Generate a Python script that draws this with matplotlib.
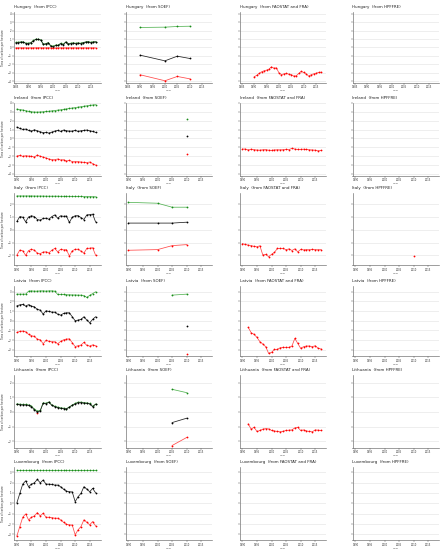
import numpy as np
import matplotlib
matplotlib.use("Agg")
import matplotlib.pyplot as plt

countries = ["Hungary", "Ireland", "Italy", "Latvia", "Lithuania", "Luxembourg"]
sources = ["IPCC", "SOEF", "FAOSTAT and FRA", "HPFFRE"]

# y tick labels per row (tons of carbon per hectare)
row_yticks = [
    [-4, -3, -2, -1, 0, 1, 2, 3, 4],
    [-4, -3, -2, -1, 0, 1, 2, 3, 4],
    [-2, -1, 0, 1, 2],
    [-3, -2, -1, 0, 1, 2, 3],
    [-2, -1, 0, 1, 2],
    [-3, -2, -1, 0, 1, 2, 3],
]
xticks_long = [1985, 1990, 1995, 2000, 2005, 2010, 2015]
xticks_std = [1990, 1995, 2000, 2005, 2010, 2015]

years_85_17 = list(range(1985, 2018))
years_90_17 = list(range(1990, 2018))
years_92_17 = list(range(1992, 2018))
soef_years = [1990, 2000, 2005, 2010]

# ---------------- Hungary ----------------
hungary_ipcc_gain = [0.60, 0.63, 0.67, 0.66, 0.51, 0.52, 0.59, 0.83, 0.99, 0.98, 0.91, 0.40, 0.47,
                     0.58, 0.21, 0.18, 0.30, 0.28, 0.51, 0.36, 0.67, 0.43, 0.51, 0.55, 0.51, 0.55,
                     0.51, 0.59, 0.67, 0.71, 0.63, 0.67, 0.71]
hungary_ipcc_net = [0.55, 0.59, 0.63, 0.63, 0.47, 0.47, 0.55, 0.79, 0.95, 0.95, 0.87, 0.36, 0.43,
                    0.55, 0.16, 0.08, 0.24, 0.24, 0.47, 0.32, 0.63, 0.39, 0.47, 0.51, 0.47, 0.51,
                    0.47, 0.55, 0.63, 0.67, 0.59, 0.63, 0.67]
hungary_ipcc_loss = [-0.04, -0.04, -0.04, -0.04, -0.04, -0.05, -0.04, -0.04, -0.04, -0.03, -0.04,
                     -0.04, -0.04, -0.03, -0.05, -0.10, -0.06, -0.04, -0.04, -0.04, -0.04, -0.04,
                     -0.04, -0.04, -0.04, -0.04, -0.04, -0.04, -0.04, -0.04, -0.04, -0.04, -0.04]
hungary_soef_gain = [2.37, 2.41, 2.49, 2.52]
hungary_soef_net = [-0.91, -1.58, -1.03, -1.30]
hungary_soef_loss = [-3.23, -3.94, -3.43, -3.71]
hungary_fao_loss = [-3.47, -3.31, -3.08, -2.88, -2.76, -2.68, -2.56, -2.29, -2.45, -2.41, -3.00,
                    -3.23, -3.12, -3.08, -3.16, -3.20, -3.39, -3.35, -3.08, -2.84, -2.96, -3.12,
                    -3.39, -3.23, -3.12, -3.04, -2.96, -2.92]

# ---------------- Ireland ----------------
ireland_ipcc_gain = [3.30, 3.25, 3.20, 3.12, 3.05, 3.00, 2.97, 2.96, 2.98, 3.00, 3.03, 3.06, 3.10,
                     3.14, 3.18, 3.22, 3.27, 3.32, 3.37, 3.42, 3.47, 3.52, 3.57, 3.62, 3.67, 3.72,
                     3.76, 3.80]
ireland_ipcc_net = [1.27, 1.12, 1.01, 1.05, 0.90, 0.82, 0.97, 0.86, 0.75, 0.64, 0.67, 0.60, 0.71,
                    0.82, 0.90, 0.79, 0.94, 0.86, 0.82, 0.82, 0.90, 0.79, 0.86, 0.90, 0.94, 0.86,
                    0.79, 0.67]
ireland_ipcc_loss = [-1.99, -1.91, -2.02, -1.95, -1.99, -2.02, -2.10, -1.87, -2.02, -2.10, -2.21,
                     -2.32, -2.40, -2.40, -2.32, -2.43, -2.40, -2.55, -2.47, -2.62, -2.62, -2.62,
                     -2.66, -2.70, -2.73, -2.66, -2.85, -3.00]
ireland_soef_years = [2010]
ireland_soef_gain = [2.13]
ireland_soef_net = [0.29]
ireland_soef_loss = [-1.80]
ireland_fao_loss = [-1.20, -1.20, -1.30, -1.22, -1.27, -1.31, -1.33, -1.28, -1.26, -1.33, -1.35,
                    -1.30, -1.28, -1.29, -1.27, -1.25, -1.26, -1.12, -1.20, -1.25, -1.24, -1.22,
                    -1.25, -1.28, -1.30, -1.33, -1.40, -1.36]

# ---------------- Italy ----------------
italy_ipcc_gain = [2.64, 2.64, 2.64, 2.64, 2.64, 2.64, 2.63, 2.63, 2.63, 2.63, 2.62, 2.62, 2.62,
                   2.62, 2.62, 2.61, 2.61, 2.61, 2.61, 2.60, 2.60, 2.60, 2.60, 2.59, 2.59, 2.59,
                   2.58, 2.58]
italy_ipcc_net = [0.65, 1.03, 0.98, 0.62, 1.00, 1.09, 1.03, 0.80, 0.75, 0.88, 0.90, 0.82, 1.03,
                  1.16, 0.90, 1.09, 1.05, 1.07, 0.57, 0.98, 1.09, 1.10, 0.95, 0.80, 1.16, 1.18,
                  1.22, 0.62]
italy_ipcc_loss = [-1.97, -1.59, -1.64, -2.00, -1.62, -1.53, -1.59, -1.82, -1.87, -1.74, -1.72,
                   -1.80, -1.59, -1.46, -1.72, -1.53, -1.57, -1.55, -2.05, -1.64, -1.53, -1.52,
                   -1.67, -1.82, -1.46, -1.44, -1.40, -1.98]
italy_soef_gain = [2.14, 2.07, 1.76, 1.76]
italy_soef_net = [0.52, 0.52, 0.52, 0.59]
italy_soef_loss = [-1.60, -1.55, -1.24, -1.16]
italy_fao_loss = [-1.08, -1.15, -1.20, -1.23, -1.30, -1.33, -1.25, -1.97, -1.92, -2.10, -1.92,
                  -1.77, -1.46, -1.46, -1.46, -1.56, -1.49, -1.62, -1.49, -1.72, -1.54, -1.57,
                  -1.55, -1.56, -1.54, -1.55, -1.56, -1.55]
italy_hpffre_years = [2010]
italy_hpffre_loss = [-2.03]

# ---------------- Latvia ----------------
latvia_ipcc_gain = [2.74, 2.74, 2.74, 2.74, 3.05, 3.08, 3.05, 3.05, 3.08, 3.08, 3.05, 3.08, 3.08,
                    3.05, 2.71, 2.71, 2.71, 2.68, 2.68, 2.66, 2.66, 2.64, 2.64, 2.60, 2.40, 2.62,
                    2.80, 2.98]
latvia_ipcc_net = [1.54, 1.64, 1.68, 1.51, 1.66, 1.51, 1.44, 1.16, 1.10, 0.68, 1.03, 0.96, 0.89,
                   0.89, 0.68, 0.58, 0.75, 0.82, 0.82, 0.41, 0.00, 0.07, 0.14, 0.41, 0.07, -0.21,
                   0.14, 0.41]
latvia_ipcc_loss = [-1.20, -1.10, -1.06, -1.13, -1.40, -1.54, -1.61, -1.89, -1.95, -2.37, -2.02,
                    -2.12, -2.16, -2.16, -2.37, -2.13, -1.96, -1.89, -1.86, -2.26, -2.66, -2.57,
                    -2.50, -2.23, -2.53, -2.61, -2.48, -2.57]
latvia_soef_gain_years = [2005, 2010]
latvia_soef_gain = [2.64, 2.74]
latvia_soef_other_years = [2010]
latvia_soef_net = [-0.55]
latvia_soef_loss = [-3.43]
latvia_fao_loss = [-0.68, -1.23, -1.40, -1.71, -2.16, -2.40, -2.67, -3.36, -3.25, -2.95, -2.95,
                   -2.77, -2.74, -2.74, -2.74, -2.60, -1.82, -2.33, -2.84, -2.67, -2.60, -2.60,
                   -2.67, -2.57, -2.84, -2.91]

# ---------------- Lithuania ----------------
lithuania_ipcc_gain = [0.55, 0.53, 0.51, 0.51, 0.48, 0.40, 0.20, 0.07, 0.10, 0.62, 0.60, 0.69,
                       0.48, 0.39, 0.33, 0.28, 0.26, 0.23, 0.35, 0.48, 0.58, 0.67, 0.67, 0.64,
                       0.62, 0.58, 0.39, 0.55]
lithuania_ipcc_net = [0.52, 0.50, 0.48, 0.48, 0.45, 0.36, 0.14, 0.00, 0.07, 0.59, 0.57, 0.66,
                      0.45, 0.36, 0.30, 0.25, 0.23, 0.20, 0.32, 0.45, 0.55, 0.64, 0.64, 0.61,
                      0.59, 0.55, 0.36, 0.52]
lithuania_ipcc_loss_years = [1997]
lithuania_ipcc_loss = [-0.09]
lithuania_soef_years = [2005, 2010]
lithuania_soef_gain = [1.55, 1.32]
lithuania_soef_net = [-0.73, -0.43]
lithuania_soef_loss = [-2.30, -1.75]
lithuania_fao_loss = [-0.82, -1.18, -1.05, -1.34, -1.27, -1.18, -1.14, -1.16, -1.27, -1.30,
                      -1.34, -1.36, -1.32, -1.27, -1.25, -1.23, -1.09, -1.05, -1.27, -1.23,
                      -1.30, -1.34, -1.36, -1.23, -1.25, -1.27]

# ---------------- Luxembourg ----------------
luxembourg_ipcc_gain = [3.19, 3.19, 3.19, 3.19, 3.19, 3.19, 3.19, 3.19, 3.19, 3.19, 3.19, 3.19,
                        3.19, 3.19, 3.19, 3.19, 3.19, 3.19, 3.19, 3.19, 3.19, 3.19, 3.19, 3.19,
                        3.19, 3.19, 3.19, 3.19]
luxembourg_ipcc_net = [0.06, 0.96, 1.85, 2.17, 1.60, 1.85, 1.98, 2.30, 1.98, 2.24, 1.85, 1.85,
                       1.82, 1.76, 1.76, 1.60, 1.37, 1.18, 1.12, 1.10, 0.16, 0.64, 0.96, 1.60,
                       1.37, 1.12, 1.44, 1.02]
luxembourg_ipcc_loss = [-3.13, -2.23, -1.34, -1.02, -1.59, -1.34, -1.21, -0.89, -1.21, -0.95,
                        -1.34, -1.34, -1.37, -1.43, -1.43, -1.59, -1.82, -2.01, -2.07, -2.09,
                        -3.03, -2.55, -2.23, -1.59, -1.82, -2.07, -1.75, -2.17]

GREEN_LINE, GREEN_MK = "#55b455", "#178a17"
BLACK_LINE, BLACK_MK = "#222222", "#000000"
RED_LINE, RED_MK = "#ff4a4a", "#ff0000"

series = {
    ("Hungary", "IPCC"): [(years_85_17, hungary_ipcc_gain, "g"), (years_85_17, hungary_ipcc_net, "k"),
                          (years_85_17, hungary_ipcc_loss, "r")],
    ("Hungary", "SOEF"): [(soef_years, hungary_soef_gain, "g"), (soef_years, hungary_soef_net, "k"),
                          (soef_years, hungary_soef_loss, "r")],
    ("Hungary", "FAOSTAT and FRA"): [(years_90_17, hungary_fao_loss, "r")],
    ("Ireland", "IPCC"): [(years_90_17, ireland_ipcc_gain, "g"), (years_90_17, ireland_ipcc_net, "k"),
                          (years_90_17, ireland_ipcc_loss, "r")],
    ("Ireland", "SOEF"): [(ireland_soef_years, ireland_soef_gain, "g"),
                          (ireland_soef_years, ireland_soef_net, "k"),
                          (ireland_soef_years, ireland_soef_loss, "r")],
    ("Ireland", "FAOSTAT and FRA"): [(years_90_17, ireland_fao_loss, "r")],
    ("Italy", "IPCC"): [(years_90_17, italy_ipcc_gain, "g"), (years_90_17, italy_ipcc_net, "k"),
                        (years_90_17, italy_ipcc_loss, "r")],
    ("Italy", "SOEF"): [(soef_years, italy_soef_gain, "g"), (soef_years, italy_soef_net, "k"),
                        (soef_years, italy_soef_loss, "r")],
    ("Italy", "FAOSTAT and FRA"): [(years_90_17, italy_fao_loss, "r")],
    ("Italy", "HPFFRE"): [(italy_hpffre_years, italy_hpffre_loss, "r")],
    ("Latvia", "IPCC"): [(years_90_17, latvia_ipcc_gain, "g"), (years_90_17, latvia_ipcc_net, "k"),
                         (years_90_17, latvia_ipcc_loss, "r")],
    ("Latvia", "SOEF"): [(latvia_soef_gain_years, latvia_soef_gain, "g"),
                         (latvia_soef_other_years, latvia_soef_net, "k"),
                         (latvia_soef_other_years, latvia_soef_loss, "r")],
    ("Latvia", "FAOSTAT and FRA"): [(years_92_17, latvia_fao_loss, "r")],
    ("Lithuania", "IPCC"): [(years_90_17, lithuania_ipcc_gain, "g"),
                            (lithuania_ipcc_loss_years, lithuania_ipcc_loss, "r"),
                            (years_90_17, lithuania_ipcc_net, "k")],
    ("Lithuania", "SOEF"): [(lithuania_soef_years, lithuania_soef_gain, "g"),
                            (lithuania_soef_years, lithuania_soef_net, "k"),
                            (lithuania_soef_years, lithuania_soef_loss, "r")],
    ("Lithuania", "FAOSTAT and FRA"): [(years_92_17, lithuania_fao_loss, "r")],
    ("Luxembourg", "IPCC"): [(years_90_17, luxembourg_ipcc_gain, "g"),
                             (years_90_17, luxembourg_ipcc_net, "k"),
                             (years_90_17, luxembourg_ipcc_loss, "r")],
}
styles = {"g": (GREEN_LINE, GREEN_MK), "k": (BLACK_LINE, BLACK_MK), "r": (RED_LINE, RED_MK)}

W, H = 445.0, 550.0
fig = plt.figure(figsize=(W / 100, H / 100), dpi=100)
fig.patch.set_facecolor("white")

col_left = [14.0, 125.5, 239.5, 352.5]
col_w = 86.5
row_top = [11.7, 102.7, 193.5, 286.0, 375.0, 466.7]
row_bot = [82.7, 175.5, 265.5, 356.0, 447.7, 540.0]
row_ylim = [(-4.17, 4.24), (-4.18, 4.02), (-2.79, 2.83), (-3.63, 3.58), (-2.45, 2.53), (-3.53, 3.53)]

for r, country in enumerate(countries):
    for c, src in enumerate(sources):
        ax = fig.add_axes([col_left[c] / W, 1 - row_bot[r] / H, col_w / W,
                           (row_bot[r] - row_top[r]) / H])
        for yrs, vals, key in series.get((country, src), []):
            lc, mc = styles[key]
            ax.plot(yrs, vals, color=lc, lw=0.55, marker="o", ms=1.3,
                    mfc=mc, mec=mc, mew=0, zorder=3)
        if r == 0 and c > 0:
            ax.set_xlim(1984.1, 2019.0)
            ax.set_xticks(xticks_long)
        elif r == 0:
            ax.set_xlim(1984.2, 2019.0)
            ax.set_xticks(xticks_long)
        else:
            ax.set_xlim(1989.0, 2018.7)
            ax.set_xticks(xticks_std)
        ax.set_ylim(*row_ylim[r])
        ax.set_yticks(row_yticks[r])
        ax.yaxis.grid(True, color="#e4e4e4", lw=0.45)
        ax.set_axisbelow(True)
        for s in ["top", "right"]:
            ax.spines[s].set_visible(False)
        for s in ["left", "bottom"]:
            ax.spines[s].set_color("#666666")
            ax.spines[s].set_linewidth(0.45)
        ax.tick_params(axis="both", length=1.2, width=0.35, color="#666666",
                       labelsize=1.8, pad=0.8, labelcolor="#333333")
        if c > 0:
            ax.tick_params(axis="y", labelleft=False)
        ax.set_xlabel("Year", fontsize=1.6, labelpad=0.6, color="#333333")
        if c == 0:
            ax.set_ylabel("Tons of carbon per hectare", fontsize=2.0, labelpad=1.5,
                          color="#333333")
        ax.set_title(f"{country}  (from {src})", loc="left", fontsize=2.9,
                     pad=3.0, color="#222222")

fig.savefig("out.png", dpi=100, facecolor="white")
